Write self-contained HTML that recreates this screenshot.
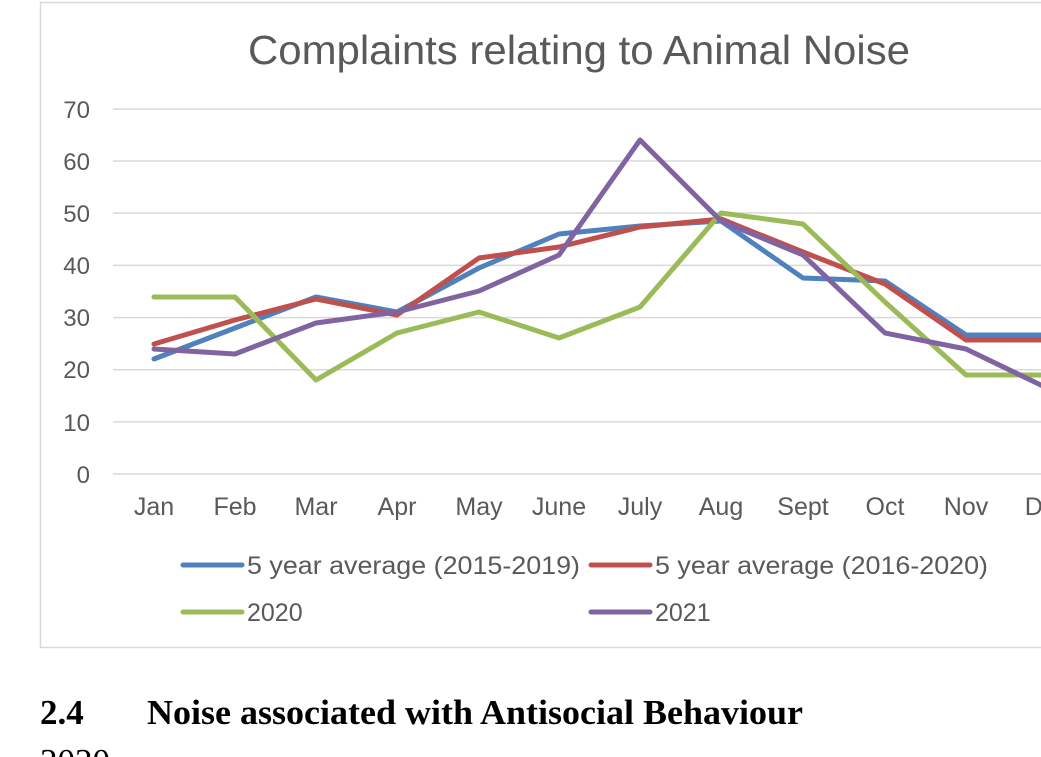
<!DOCTYPE html>
<html><head><style>
html,body{margin:0;padding:0;background:#fff;width:1041px;height:757px;overflow:hidden}
</style></head><body>
<svg width="1041" height="757" xmlns="http://www.w3.org/2000/svg" style="position:absolute;left:0;top:0">
<rect x="40.5" y="2.5" width="1100" height="645" fill="#fff" stroke="#d9d9d9" stroke-width="1.5"/>
<text x="579" y="64" text-anchor="middle" font-family="Liberation Sans, sans-serif" font-size="41" fill="#595959" textLength="662" lengthAdjust="spacingAndGlyphs">Complaints relating to Animal Noise</text>
<g stroke="#d9d9d9" stroke-width="1.5">
<line x1="113" x2="1041" y1="109" y2="109"/><line x1="113" x2="1041" y1="161" y2="161"/>
<line x1="113" x2="1041" y1="213" y2="213"/><line x1="113" x2="1041" y1="265.4" y2="265.4"/>
<line x1="113" x2="1041" y1="317.6" y2="317.6"/><line x1="113" x2="1041" y1="369.7" y2="369.7"/>
<line x1="113" x2="1041" y1="421.9" y2="421.9"/><line x1="113" x2="1041" y1="474" y2="474"/>
</g>
<g font-family="Liberation Sans, sans-serif" font-size="24" fill="#595959" text-anchor="end">
<text x="90" y="118">70</text><text x="90" y="170">60</text><text x="90" y="222">50</text><text x="90" y="274">40</text>
<text x="90" y="326">30</text><text x="90" y="378">20</text><text x="90" y="431">10</text><text x="90" y="483">0</text>
</g>
<g font-family="Liberation Sans, sans-serif" font-size="25" fill="#595959" text-anchor="middle">
<text x="154" y="515">Jan</text><text x="235" y="515">Feb</text><text x="316" y="515">Mar</text><text x="397" y="515">Apr</text>
<text x="479" y="515">May</text><text x="559" y="515">June</text><text x="640" y="515">July</text><text x="721" y="515">Aug</text>
<text x="803" y="515">Sept</text><text x="885" y="515">Oct</text><text x="966" y="515">Nov</text><text x="1047" y="515">Dec</text>
</g>
<g fill="none" stroke-width="5" stroke-linejoin="round" stroke-linecap="round">
<polyline stroke="#4f81bd" points="154,359 235,328 316,297 397,312 479,268 559,234 640,226 721,221 803,278 885,281 966,335 1047,335"/>
<polyline stroke="#c0504d" points="154,344 235,320 316,299 397,315 479,258 559,247 640,227 721,219 803,252 885,284 966,340 1047,340"/>
<polyline stroke="#9bbb59" points="154,297 235,297 316,380 397,333 479,312 559,338 640,307 721,213 803,224 885,302 966,375 1047,375"/>
<polyline stroke="#8064a2" points="154,349 235,354 316,323 397,312 479,291 559,255 640,140 721,221 803,255 885,333 966,349 1047,388"/>
</g>
<g stroke-width="5" stroke-linecap="round">
<line x1="183" x2="242" y1="565" y2="565" stroke="#4f81bd"/>
<line x1="591" x2="650" y1="565" y2="565" stroke="#c0504d"/>
<line x1="183" x2="242" y1="612" y2="612" stroke="#9bbb59"/>
<line x1="591" x2="650" y1="612" y2="612" stroke="#8064a2"/>
</g>
<g font-family="Liberation Sans, sans-serif" font-size="25" fill="#595959">
<text x="247" y="574" textLength="333" lengthAdjust="spacingAndGlyphs">5 year average (2015-2019)</text>
<text x="655" y="574" textLength="333" lengthAdjust="spacingAndGlyphs">5 year average (2016-2020)</text>
<text x="247" y="621">2020</text>
<text x="655" y="621">2021</text>
</g>
<g font-family="Liberation Serif, serif" font-size="35" font-weight="bold" fill="#000">
<text x="40" y="724">2.4</text><text x="147" y="724" textLength="656" lengthAdjust="spacingAndGlyphs">Noise associated with Antisocial Behaviour</text>
</g>
<text x="40" y="773" font-family="Liberation Serif, serif" font-size="35" fill="#000">2020</text>
</svg>
</body></html>
